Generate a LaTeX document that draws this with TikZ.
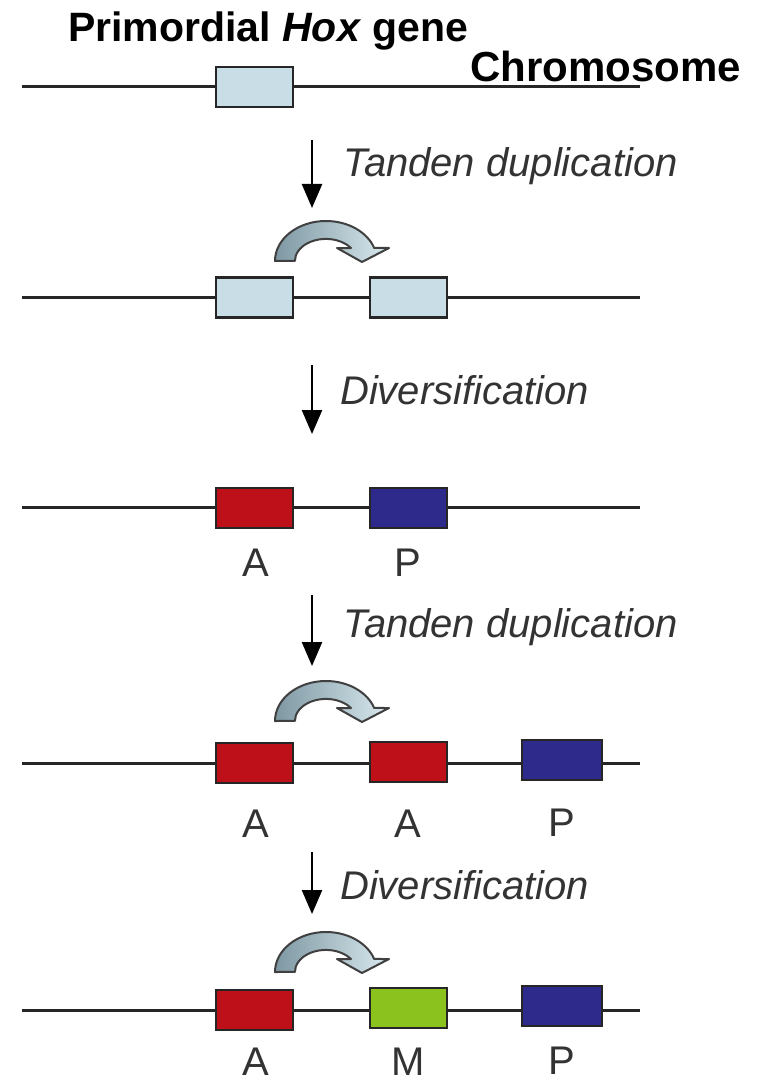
\documentclass[tikz,border=0pt]{standalone}
\usepackage{fontspec}
\setmainfont{Liberation Sans}
\usetikzlibrary{arrows.meta}
\definecolor{hoxlight}{HTML}{C8DDE5}
\definecolor{hoxred}{HTML}{BE1018}
\definecolor{hoxblue}{HTML}{2D2A8C}
\definecolor{hoxgreen}{HTML}{8CC21E}
\definecolor{curldark}{HTML}{7E98A3}
\definecolor{curllight}{HTML}{D9E8EE}
\newcommand\hoxcurl[1]{%
  \begin{scope}[shift={(0,#1)}]
    \path[curl] (275,0) arc[start angle=180,end angle=341,x radius=51,y radius=40]
      -- (389,-13) -- (362,1) -- (337,-13) -- (351,-13)
      arc[start angle=324,end angle=180,x radius=31,y radius=22] -- cycle;
  \end{scope}}
\begin{document}
\begin{tikzpicture}[x=1pt,y=-1pt,
  chrom/.style={line width=3pt,draw=black!85},
  gene/.style={draw=black!85,line width=2.5pt,minimum width=77pt,minimum height=40pt,inner sep=0pt},
  vstep/.style={line width=2.5pt,draw=black,-{Triangle[length=24pt,width=20pt]}},
  lbl/.style={font=\fontsize{40}{40}\selectfont,anchor=base,text=black!80,inner sep=0pt},
  proc/.style={font=\fontsize{40}{40}\selectfont\itshape,anchor=base west,text=black!80,inner sep=0pt},
  curl/.style={draw=black!75,line width=2pt,left color=curldark,right color=curllight,line join=round}]
\useasboundingbox[fill=white] (0,0) rectangle (760,1086);

% titles
\node[anchor=base west,inner sep=0pt,font=\fontsize{41}{41}\selectfont\bfseries] (title) at (68,42) {Primordial \textit{Hox} gene};
\node[anchor=base west,inner sep=0pt,font=\fontsize{42}{42}\selectfont\bfseries] (chromlbl) at (470,82) {Chromosome};

% row 1
\coordinate (l1) at (22,87); \coordinate (r1) at (640,87);
\draw[chrom] (l1) -- (r1);
\node[gene,fill=hoxlight] (g11) at (254.5,87) {};

% step 1
\coordinate (a1s) at (312,140); \coordinate (a1e) at (312,208);
\draw[vstep] (a1s) -- (a1e);
\node[proc] (p1) at (343,177) {Tanden duplication};
\hoxcurl{261}

% row 2
\coordinate (l2) at (22,297); \coordinate (r2) at (640,297);
\draw[chrom] (l2) -- (r2);
\node[gene,fill=hoxlight] (g21) at (254.5,297.5) {};
\node[gene,fill=hoxlight] (g22) at (408.5,297.5) {};

% step 2
\coordinate (a2s) at (312,365); \coordinate (a2e) at (312,434);
\draw[vstep] (a2s) -- (a2e);
\node[proc] (p2) at (340,404) {Diversification};

% row 3
\coordinate (l3) at (22,507); \coordinate (r3) at (640,507);
\draw[chrom] (l3) -- (r3);
\node[gene,fill=hoxred] (g31) at (254.5,508) {};
\node[gene,fill=hoxblue] (g32) at (408.5,508) {};
\node[lbl] (t31) at (256,576) {A};
\node[lbl] (t32) at (408,576) {P};

% step 3
\coordinate (a3s) at (312,595); \coordinate (a3e) at (312,666);
\draw[vstep] (a3s) -- (a3e);
\node[proc] (p3) at (343,637) {Tanden duplication};
\hoxcurl{721}

% row 4
\coordinate (l4) at (22,763); \coordinate (r4) at (640,763);
\draw[chrom] (l4) -- (r4);
\node[gene,fill=hoxred] (g41) at (254.5,763) {};
\node[gene,fill=hoxred] (g42) at (408.5,762) {};
\node[gene,fill=hoxblue,minimum width=80pt] (g43) at (562,760) {};
\node[lbl] (t41) at (256,837) {A};
\node[lbl] (t42) at (408,837) {A};
\node[lbl] (t43) at (562,836) {P};

% step 4
\coordinate (a4s) at (312,852); \coordinate (a4e) at (312,914);
\draw[vstep] (a4s) -- (a4e);
\node[proc] (p4) at (340,899) {Diversification};
\hoxcurl{972}

% row 5
\coordinate (l5) at (22,1010); \coordinate (r5) at (640,1010);
\draw[chrom] (l5) -- (r5);
\node[gene,fill=hoxred] (g51) at (254.5,1010) {};
\node[gene,fill=hoxgreen] (g52) at (408.5,1008) {};
\node[gene,fill=hoxblue,minimum width=80pt] (g53) at (562,1006) {};
\node[lbl] (t51) at (256,1075) {A};
\node[lbl] (t52) at (408,1075) {M};
\node[lbl] (t53) at (562,1074) {P};
\end{tikzpicture}
\end{document}
